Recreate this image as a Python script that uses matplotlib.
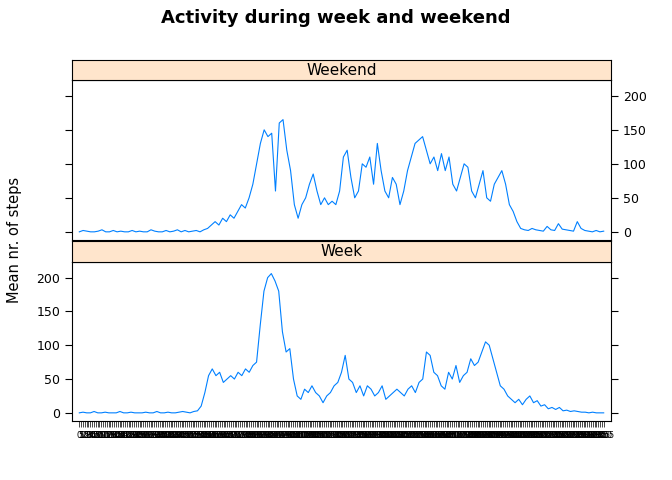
import numpy as np
import matplotlib.pyplot as plt

# mean steps, sampled roughly every 2nd 5-minute interval
week = [0,1,0,0,2,0,0,1,0,0,0,2,0,0,1,0,0,0,1,0,0,2,0,0,1,0,0,1,2,1,0,2,3,
        10,30,55,65,55,60,45,50,55,50,60,55,65,60,70,75,130,180,200,206,195,180,120,90,95,50,25,20,35,30,40,30,25,15,25,30,40,45,60,85,50,45,30,40,25,40,35,25,30,40,20,25,30,35,30,25,35,40,30,45,50,90,85,60,55,40,35,60,50,70,45,55,60,80,70,75,90,105,100,80,60,40,35,25,20,15,20,12,20,25,15,18,10,12,6,8,5,8,3,4,2,3,2,1,1,0,1,0,0,0]
weekend = [0,2,1,0,0,1,3,0,0,2,0,1,0,0,2,0,1,0,0,3,1,0,0,2,0,1,3,0,2,0,1,2,0,3,
           5,10,15,10,20,15,25,20,30,40,35,50,70,100,130,150,140,145,60,160,165,120,90,40,20,40,50,70,85,60,40,50,40,45,40,60,110,120,80,50,60,100,95,110,70,130,90,60,50,80,70,40,60,90,110,130,135,140,120,100,110,90,115,90,110,70,60,80,100,95,60,50,70,90,50,45,70,80,90,70,40,30,15,5,3,2,5,3,2,1,8,3,2,12,4,3,2,1,15,5,2,1,0,2,0,1]
n_int = 288
col = '#0080FF'
strip = '#FFE5CC'
ticks_y = [0, 50, 100, 150, 200]
ylim = (-12, 223)

fig = plt.figure(figsize=(6.72, 4.8), dpi=100)
L, W = 72/672, 539/672
ax_top = fig.add_axes([L, 0.5, W, 0.333])
ax_bot = fig.add_axes([L, 0.123, W, 0.331])
s_top = fig.add_axes([L, 0.833, W, 0.0417])
s_bot = fig.add_axes([L, 0.454, W, 0.0437])

for ax, data in [(ax_top, weekend), (ax_bot, week)]:
    x = np.linspace(0, n_int - 1, len(data))
    ax.plot(x, data, color=col, lw=0.8)
    ax.set_xlim(-4, n_int + 3)
    ax.set_ylim(*ylim)
    ax.set_yticks(ticks_y)
    ax.set_xticks(np.arange(n_int))
    ax.tick_params(axis='x', length=4, width=0.5, labelsize=6, direction='out')
    ax.tick_params(axis='y', labelsize=9, direction='out', length=5)

ax_top.tick_params(axis='y', left=True, right=True, labelleft=False, labelright=True)
ax_top.tick_params(axis='x', top=True, bottom=False, labelbottom=False)
ax_bot.tick_params(axis='y', left=True, right=True, labelleft=True, labelright=False)
labels = ['%d' % (h*100 + m) for h in range(24) for m in range(0, 60, 5)]
ax_bot.set_xticklabels(labels, rotation=0)

for s, name in [(s_top, 'Weekend'), (s_bot, 'Week')]:
    s.set_facecolor(strip)
    s.set_xticks([]); s.set_yticks([])
    s.text(0.5, 0.5, name, ha='center', va='center', fontsize=11, transform=s.transAxes)

fig.text(0.5, 0.962, 'Activity during week and weekend', ha='center', va='center',
         fontsize=13, fontweight='bold')
fig.text(0.022, 0.5, 'Mean nr. of steps', rotation=90, ha='center', va='center', fontsize=10.5)
fig.savefig('out.png', dpi=100)
